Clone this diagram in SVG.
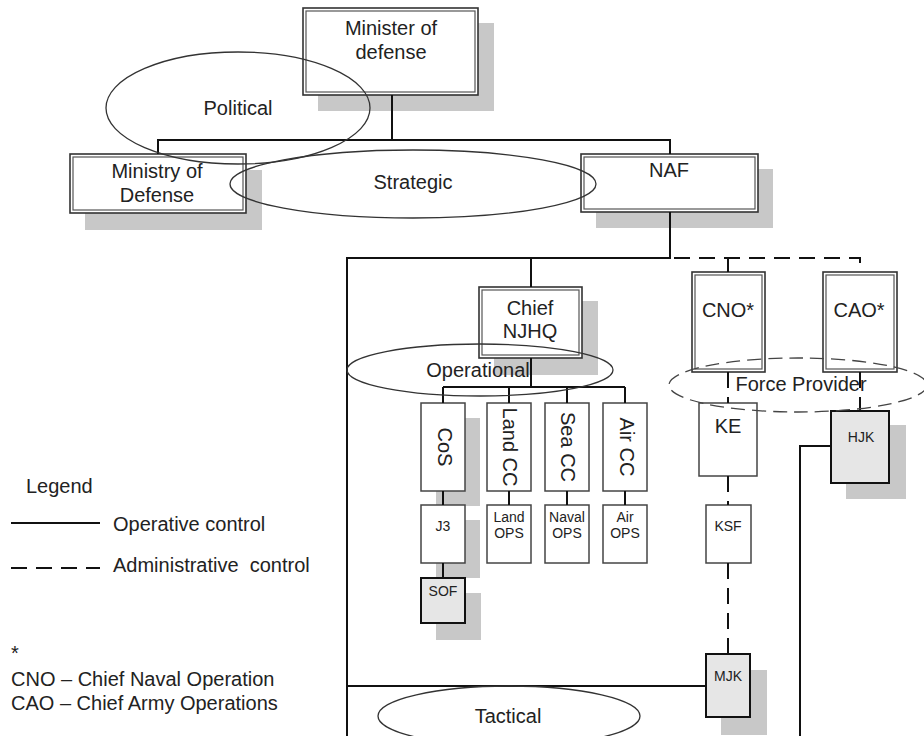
<svg xmlns="http://www.w3.org/2000/svg" width="924" height="736" viewBox="0 0 924 736">
<style>
.sh{fill:#c8c8c8}
.bo{fill:#fff;stroke:#333;stroke-width:1.6}
.bi{fill:none;stroke:#555;stroke-width:1.2}
.sb{fill:#fff;stroke:#444;stroke-width:1.5}
.gb{fill:#e6e6e6;stroke:#111;stroke-width:2}
.t{font-family:"Liberation Sans",Arial,sans-serif;font-size:20px;fill:#222;text-anchor:middle}
.s{font-family:"Liberation Sans",Arial,sans-serif;font-size:14px;fill:#222;text-anchor:middle}
.lg{font-family:"Liberation Sans",Arial,sans-serif;font-size:20px;fill:#222;white-space:pre}
.ln{stroke:#111;stroke-width:2;fill:none}
.dl{stroke:#111;stroke-width:2;fill:none;stroke-dasharray:16 9}
.el{fill:none;stroke:#333;stroke-width:1.3}
.ed{fill:none;stroke:#444;stroke-width:1.3;stroke-dasharray:14 7}
</style>

<g id="minister">
<rect class="sh" x="318" y="23" width="176" height="88"/>
<rect class="bo" x="303" y="8" width="175" height="87"/>
<rect class="bi" x="306" y="11" width="169" height="81"/>
<text class="t" x="391" y="35">Minister of</text>
<text class="t" x="391" y="59">defense</text>
</g>
<g id="ministry">
<rect class="sh" x="85" y="170" width="177" height="60"/>
<rect class="bo" x="70" y="154" width="176" height="59"/>
<rect class="bi" x="73" y="157" width="170" height="53"/>
<text class="t" x="157" y="178">Ministry of</text>
<text class="t" x="157" y="202">Defense</text>
</g>
<g id="naf">
<rect class="sh" x="596" y="169" width="177" height="59"/>
<rect class="bo" x="581" y="154" width="177" height="58"/>
<rect class="bi" x="584" y="157" width="171" height="52"/>
<text class="t" x="669" y="177">NAF</text>
</g>
<g id="chief">
<rect class="sh" x="494" y="301" width="104" height="74"/>
<rect class="bo" x="479" y="287" width="103" height="71"/>
<rect class="bi" x="482" y="290" width="97" height="65"/>
<text class="t" x="530" y="315">Chief</text>
<text class="t" x="530" y="338">NJHQ</text>
</g>
<g id="cno">
<rect class="bo" x="692" y="272" width="73" height="100"/>
<rect class="bi" x="695" y="275" width="67" height="94"/>
<text class="t" x="728" y="317">CNO*</text>
</g>
<g id="cao">
<rect class="bo" x="823" y="272" width="74" height="100"/>
<rect class="bi" x="826" y="275" width="68" height="94"/>
<text class="t" x="859" y="317">CAO*</text>
</g>
<g id="cos">
<rect class="sh" x="436" y="418" width="44" height="88"/>
<rect class="sb" x="421" y="403" width="44" height="88"/>
<text class="t" transform="translate(438,447) rotate(90)">CoS</text>
</g>
<g id="landcc">
<rect class="sb" x="487" y="403" width="44" height="88"/>
<text class="t" transform="translate(503,447) rotate(90)">Land CC</text>
</g>
<g id="seacc">
<rect class="sb" x="545" y="403" width="44" height="88"/>
<text class="t" transform="translate(561,447) rotate(90)">Sea CC</text>
</g>
<g id="aircc">
<rect class="sb" x="603" y="403" width="44" height="88"/>
<text class="t" transform="translate(620,447) rotate(90)">Air CC</text>
</g>
<g id="j3">
<rect class="sh" x="436" y="520" width="44" height="58"/>
<rect class="sb" x="421" y="505" width="44" height="58"/>
<text class="s" x="443" y="531">J3</text>
</g>
<g id="landops">
<rect class="sb" x="487" y="505" width="44" height="58"/>
<text class="s" x="509" y="522">Land</text>
<text class="s" x="509" y="538">OPS</text>
</g>
<g id="navalops">
<rect class="sb" x="545" y="505" width="44" height="58"/>
<text class="s" x="567" y="522">Naval</text>
<text class="s" x="567" y="538">OPS</text>
</g>
<g id="airops">
<rect class="sb" x="603" y="505" width="44" height="58"/>
<text class="s" x="625" y="522">Air</text>
<text class="s" x="625" y="538">OPS</text>
</g>
<g id="sof">
<rect class="sh" x="436" y="593" width="45" height="47"/>
<rect class="gb" x="421" y="578" width="44" height="45"/>
<text class="s" x="443" y="596">SOF</text>
</g>
<g id="ke">
<rect class="sb" x="699" y="403" width="58" height="73"/>
<text class="t" x="728" y="433">KE</text>
</g>
<g id="ksf">
<rect class="sb" x="706" y="505" width="45" height="58"/>
<text class="s" x="728" y="531">KSF</text>
</g>
<g id="mjk">
<rect class="sh" x="721" y="670" width="46" height="65"/>
<rect class="gb" x="706" y="654" width="44" height="63"/>
<text class="s" x="728" y="681">MJK</text>
</g>
<g id="hjk">
<rect class="sh" x="846" y="425" width="60" height="74"/>
<rect class="gb" x="831" y="411" width="58" height="72"/>
<text class="s" x="861" y="442">HJK</text>
</g>

<g id="connectors">
<path class="ln" d="M392 95V140M158 154V140H670V154M670 212V258H347V736M531 258V287M728 258V272M531 358V387M443 387H625M443 387V403M509 387V403M567 387V403M625 387V403M443 491V505M509 491V505M567 491V505M625 491V505M443 563V578M347 686H706M831 446H800V736"/>
<path class="dl" d="M674 258H860V272M728 372V403M860 372V411M728 476V505M728 563V654"/>
</g>

<g id="zones">
<ellipse class="el" cx="238" cy="108" rx="132" ry="56"/>
<text class="t" x="238" y="115">Political</text>
<ellipse class="el" cx="413" cy="184" rx="183" ry="34"/>
<text class="t" x="413" y="189">Strategic</text>
<ellipse class="el" cx="480" cy="370" rx="133" ry="26"/>
<text class="t" x="478" y="377">Operational</text>
<ellipse class="ed" cx="798" cy="385" rx="129" ry="27"/>
<text class="t" x="801" y="391">Force Provider</text>
<ellipse class="el" cx="509" cy="716" rx="131" ry="30"/>
<text class="t" x="508" y="723">Tactical</text>
</g>

<g id="legend">
<text class="lg" x="26" y="493">Legend</text>
<line class="ln" x1="11" y1="523" x2="100" y2="523"/>
<text class="lg" x="113" y="531">Operative control</text>
<line class="ln" x1="11" y1="568" x2="100" y2="568" stroke-dasharray="16 9"/>
<text class="lg" x="113" y="572">Administrative  control</text>
<text class="lg" x="11" y="660">*</text>
<text class="lg" x="11" y="686">CNO – Chief Naval Operation</text>
<text class="lg" x="11" y="710">CAO – Chief Army Operations</text>
</g>
</svg>
